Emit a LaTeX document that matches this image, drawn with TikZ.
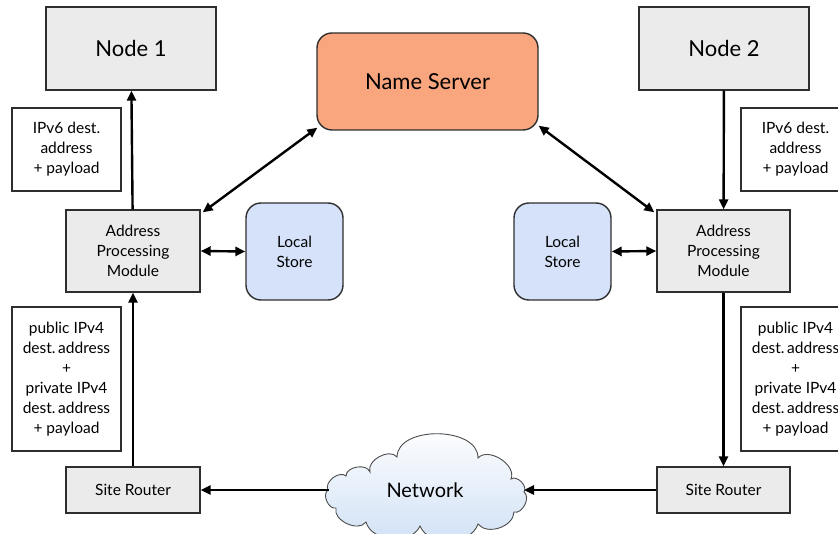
\documentclass[tikz,border=0pt]{standalone}
\usepackage{fontspec}
\setmainfont{Lato}
\usetikzlibrary{arrows.meta}
\definecolor{boxgray}{HTML}{EBEBEB}
\definecolor{salmon}{HTML}{F9A67E}
\definecolor{storeblue}{HTML}{D5E2F9}
\definecolor{cloudblue}{HTML}{CFE0F5}
\definecolor{edgegray}{HTML}{2E2E2E}
\tikzset{
  box/.style={draw=edgegray, line width=1.4pt, fill=boxgray, inner sep=0pt, align=center},
  bigtext/.style={font=\fontsize{22}{26}\selectfont},
  smalltext/.style={font=\fontsize{15.5}{20}\selectfont},
  labelbox/.style={draw=edgegray, line width=1.4pt, fill=white, inner sep=0pt, align=center, smalltext,
    minimum width=109pt},
  roundbox/.style={draw=edgegray, line width=1.4pt, rounded corners=15pt, inner sep=0pt, align=center},
  flow/.style={line width=2.4pt, -{Triangle[length=10pt,width=9pt]}},
  dbl/.style={line width=2.4pt, {Triangle[length=10pt,width=9pt]}-{Triangle[length=10pt,width=9pt]}},
  cloudline/.style={draw=gray!60!black, line width=0.9pt, top color=white, bottom color=cloudblue},
}
\begin{document}
\begin{tikzpicture}[x=1pt,y=-1pt]
\useasboundingbox (0,0) rectangle (838,534);
% main nodes
\node[box, bigtext, minimum width=170pt, minimum height=83pt] (n1) at (131,48.5) {Node 1};
\node[box, bigtext, minimum width=170pt, minimum height=83pt] (n2) at (724,48.5) {Node 2};
\node[roundbox, fill=salmon, bigtext, minimum width=221pt, minimum height=97pt] (ns) at (427.5,81.5) {Name Server};
% label boxes
\node[labelbox, minimum height=83pt] (v6l) at (66.5,149.5) {IPv6 dest.\\address\\+ payload};
\node[labelbox, minimum height=83pt] (v6r) at (795.5,149.5) {IPv6 dest.\\address\\+ payload};
\node[labelbox, minimum height=144pt] (v4l) at (66.5,379) {public IPv4\\dest.\,address\\+\\private IPv4\\dest.\,address\\+ payload};
\node[labelbox, minimum height=144pt] (v4r) at (795.5,379) {public IPv4\\dest.\,address\\+\\private IPv4\\dest.\,address\\+ payload};
% processing modules
\node[box, smalltext, minimum width=134pt, minimum height=82pt] (apl) at (133,251) {Address\\Processing\\Module};
\node[box, smalltext, minimum width=133pt, minimum height=82pt] (apr) at (723.5,251) {Address\\Processing\\Module};
% local stores
\node[roundbox, fill=storeblue, smalltext, minimum width=97pt, minimum height=97pt] (lsl) at (294.5,251.5) {Local\\Store};
\node[roundbox, fill=storeblue, smalltext, minimum width=97pt, minimum height=97pt] (lsr) at (562.5,251.5) {Local\\Store};
% site routers
\node[box, smalltext, minimum width=134pt, minimum height=46pt] (srl) at (133,490) {Site Router};
\node[box, smalltext, minimum width=133pt, minimum height=46pt] (srr) at (723.5,490) {Site Router};
% network cloud
\draw[cloudline] (328,490)
  to[bend left=80] (346,476)
  to[bend left=80] (370,472)
  to[bend left=80] (397,457)
  to[bend left=90] (478,458)
  to[bend left=80] (511,479)
  to[bend left=80] (524,492)
  to[bend left=80] (514,512)
  to[bend left=70] (478,524)
  to[bend left=70] (420,526)
  to[bend left=70] (366,522)
  to[bend left=80] (336,508)
  to[bend left=80] cycle;
\coordinate (netl) at (329,490);
\coordinate (netr) at (524,490);
\node[font=\fontsize{20}{24}\selectfont] (net) at (425,490) {Network};
% connectors
\draw[flow] (apl) -- (n1);
\draw[flow] (srl) -- (apl);
\draw[flow] (n2) -- (apr);
\draw[flow] (apr) -- (srr);
\draw[flow] (srr.west) -- (netr);
\draw[flow] (netl) -- (srl.east);
\draw[dbl] (apl.east) -- (lsl.west);
\draw[dbl] (lsr.east) -- (apr.west);
\draw[dbl] ([xshift=1pt,yshift=3pt]ns.south west) -- ([xshift=2pt,yshift=-3pt]apl.north east);
\draw[dbl] ([xshift=0pt,yshift=5pt]ns.south east) -- ([xshift=-2pt,yshift=-3pt]apr.north west);
\end{tikzpicture}
\end{document}
